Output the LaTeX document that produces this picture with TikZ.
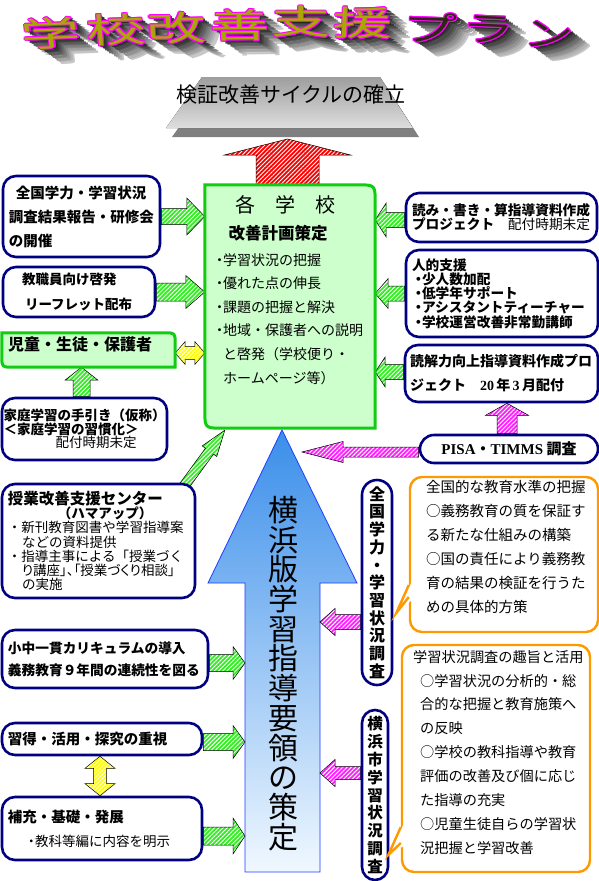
\documentclass[tikz,border=0pt]{standalone}
\usepackage{fontspec}
\setmainfont{Noto Sans CJK JP}
\newfontfamily\lserif{Liberation Serif}
\usetikzlibrary{calc,patterns.meta}
\pgfdeclarelayer{bg}
\pgfsetlayers{bg,main}
\definecolor{cNavy}{HTML}{000080}
\definecolor{cGB}{HTML}{11CC11}
\definecolor{cGF}{HTML}{CCFFCC}
\definecolor{cArG}{HTML}{33EE22}
\definecolor{cMag}{HTML}{FF22FF}
\definecolor{cRed}{HTML}{FF0000}
\definecolor{cYel}{HTML}{FFFF00}
\definecolor{cOra}{HTML}{FF9900}
\definecolor{cBlT}{HTML}{3A8EEA}
\definecolor{cBlB}{HTML}{F0F8FF}
\definecolor{cBlE}{HTML}{1E3CFF}
\definecolor{cOli}{HTML}{A8A800}
\definecolor{cKat}{HTML}{2A2A10}
\definecolor{cTitO}{HTML}{FF00FF}
\newcommand\setfs[2]{\fontsize{#1}{#2}\selectfont}
\newcommand\bul{\makebox[7pt][c]{・}}
% block arrow: style, from, to, shaft half width, head half width, head length
\newcommand\barrow[6][]{%
  \coordinate (bah) at ($(#3)!#6!(#2)$);
  \path[#1] ($(#2)!#4!90:(#3)$) -- ($(bah)!#4!-90:(#2)$) -- ($(bah)!#5!-90:(#2)$) -- (#3)
     -- ($(bah)!#5!90:(#2)$) -- ($(bah)!#4!90:(#2)$) -- ($(#2)!#4!-90:(#3)$) -- cycle;}
\newcommand\dbarrow[6][]{%
  \coordinate (dba) at ($(#2)!#6!(#3)$);
  \coordinate (dbb) at ($(#3)!#6!(#2)$);
  \path[#1] (#2) -- ($(dba)!#5!90:(#3)$) -- ($(dba)!#4!90:(#3)$) -- ($(dbb)!#4!-90:(#2)$)
     -- ($(dbb)!#5!-90:(#2)$) -- (#3) -- ($(dbb)!#5!90:(#2)$) -- ($(dbb)!#4!90:(#2)$)
     -- ($(dba)!#4!-90:(#3)$) -- ($(dba)!#5!-90:(#3)$) -- cycle;}
\tikzset{
  hatch/.style={preaction={fill=#1}, preaction={pattern={Lines[angle=45,distance=3pt,line width=0.9pt]}, pattern color=white}, draw=black, line width=0.5pt, line join=miter},
  nbox/.style={draw=cNavy, line width=2.6pt, fill=white, rounded corners=13pt, inner ysep=0pt, inner xsep=6pt, align=left},
  stad/.style={draw=cNavy, line width=2.6pt, fill=white, inner sep=0pt, align=center},
  cbox/.style={draw=cOra, line width=2.4pt, fill=white, rounded corners=12pt, inner sep=0pt},
  txt/.style={inner sep=0pt, align=left},
  ttl/.style={font={\setfs{34}{34}}, inner sep=0pt},
  gshape/.style={draw=cGB, line width=3pt, fill=cGF},
}
\begin{document}
\begin{tikzpicture}[x=1pt,y=-1pt]
\begin{pgfonlayer}{bg}
\fill[white] (0,0) rectangle (599,881);
\end{pgfonlayer}
\path[use as bounding box] (0,0) rectangle (599,881);

% ---------- title ----------
\foreach \k/\cx/\cy/\ch/\rt/\fc/\xs in {1/51/33/学/4/cOli/1.75, 2/116/30/校/3/cOli/1.75, 3/176/28/改/2/cOli/1.75, 4/240/25/善/1/cOli/1.75, 5/301/22/支/0/cOli/1.75, 6/363/23/援/-1/cOli/1.75, 7/430/28/プ/-3/cKat/1.6, 8/488/30/ラ/-4/cKat/1.55, 9/549/35/ン/-5/cKat/1.45}{
  \foreach \i in {10,...,1}{
    \pgfmathtruncatemacro\g{92-7*\i}
    \node[name=ts\k-\i, ttl, xscale=\xs, rotate=\rt, text=black!\g] at (\cx+2.1*\i,\cy+1.5*\i) {\ch};
  }
  \foreach \dx/\dy [count=\j] in {1.1/0,-1.1/0,0/1.1,0/-1.1,.8/.8,-.8/.8,.8/-.8,-.8/-.8}{
    \node[name=to\k-\j, ttl, xscale=\xs, rotate=\rt, text=cTitO] at (\cx+\dx,\cy+\dy) {\ch};
  }
  \node[name=tt\k, ttl, xscale=\xs, rotate=\rt, text=\fc] at (\cx,\cy) {\ch};
}

% ---------- verification plate ----------
\fill[black!50] (208,86) -- (386,86) -- (419,137) -- (172,137) -- cycle;
\fill[top color=black!38, bottom color=black!13] (202,77) -- (380,77) -- (413,128) -- (166,128) -- cycle;
\node[name=kensho, font={\setfs{21}{21}}, inner sep=0pt] at (291,95) {検証改善サイクルの確立};

% ---------- main nodes ----------
\node[name=school, minimum width=170pt, minimum height=243pt, inner sep=0pt] at (290,306.5) {};
\path[gshape] (school.north west) -- ([xshift=-18pt]school.north east) .. controls (school.north east) .. ([yshift=-18pt]school.north east)
  -- (school.south east) -- ([xshift=18pt]school.south west) .. controls (school.south west) .. ([yshift=18pt]school.south west) -- cycle;
\node[name=sc1, font={\setfs{20}{20}}, inner sep=0pt] at (285,205) {各　学　校};
\node[name=sc2, font={\setfs{16.5}{16.5}\bfseries}, inner sep=0pt] at (278,233) {改善計画策定};
\node[name=sc3, txt, font={\setfs{14}{23.6}}, anchor=north west] at (216,253) {\bul 学習状況の把握\\\bul 優れた点の伸長\\\bul 課題の把握と解決\\\bul 地域・保護者への説明\\\hspace*{7pt}と啓発（学校便り・\\\hspace*{7pt}ホームページ等）};

\node[nbox, name=b1, text width=145pt, minimum height=81pt, font={\setfs{14.5}{24}\bfseries}] at (81.5,216.5) {\hspace*{7pt}全国学力・学習状況\\調査結果報告・研修会\\の開催};
\node[nbox, name=b2, inner xsep=19pt, text width=114pt, minimum height=50pt, font={\setfs{13.5}{25}\bfseries}] at (79,292) {教職員向け啓発\\\hspace*{3pt}リーフレット配布};

\node[name=kids, minimum width=173pt, minimum height=34pt, inner sep=0pt] at (88.5,350) {};
\path[gshape] (kids.north west) -- ([xshift=-12pt]kids.north east) .. controls (kids.north east) .. ([yshift=-12pt]kids.north east)
  -- (kids.south east) -- ([xshift=12pt]kids.south west) .. controls (kids.south west) .. ([yshift=12pt]kids.south west) -- cycle;
\node[name=kidst, font={\setfs{16}{16}\bfseries}, inner sep=0pt, anchor=west] at (8,344) {児童・生徒・保護者};

\node[nbox, name=b4, inner xsep=1.5pt, text width=162pt, minimum height=62pt, font={\setfs{13.5}{13.5}\bfseries}] at (84.5,429) {家庭学習の手引き（仮称）\\＜家庭学習の習慣化＞\\\hspace*{52pt}{\mdseries 配付時期未定}};
\node[nbox, name=b5, text width=181pt, minimum height=114pt, font={\setfs{13.5}{14.2}}] at (98.5,541) {{\bfseries\setfs{15.5}{14.2}授業改善支援センター}\\\hspace*{50pt}{\bfseries （ハマアップ）}\\・新刊教育図書や学習指導案\\\hspace*{14pt}などの資料提供\\・指導主事による「授業づく\\\hspace*{14pt}{\addfontfeatures{CharacterWidth=AlternateProportional}り講座」、「授業づくり相談」}\\\hspace*{14pt}の実施};
\node[nbox, name=b6, text width=194pt, minimum height=58pt, font={\setfs{13.7}{22}\bfseries}] at (105,659) {小中一貫カリキュラムの導入\\義務教育９年間の連続性を図る};
\node[nbox, name=b7, text width=188pt, minimum height=32pt, font={\setfs{14.5}{14.5}\bfseries}] at (102,739) {習得・活用・探究の重視};
\node[nbox, name=b8, text width=188pt, minimum height=63pt, font={\setfs{14.5}{24}}] at (102,828.5) {{\bfseries 補充・基礎・発展}\\\hspace*{20pt}{\setfs{13.5}{24}\bul 教科等編に内容を明示}};

\node[nbox, name=r1, text width=179pt, minimum height=49pt, font={\setfs{13.7}{14}\bfseries}] at (501.5,217.5) {読み・書き・算指導資料作成\\プロジェクト{\mdseries 　配付時期未定}};
\node[nbox, name=r2, text width=180pt, minimum height=87pt, font={\setfs{13.7}{14.25}\bfseries}] at (502,293.5) {人的支援\\\hspace*{3pt}\bul 少人数加配\\\hspace*{3pt}\bul 低学年サポート\\\hspace*{3pt}\bul アシスタントティーチャー\\\hspace*{3pt}\bul 学校運営改善非常勤講師};
\node[nbox, name=r3, inner xsep=5pt, text width=183pt, minimum height=57pt, font={\setfs{14}{24}\bfseries}] at (501.5,373.5) {読解力向上指導資料作成プロ\\ジェクト　{\lserif 20\,}年{\lserif\,3\,}月配付};
\node[stad, name=pisa, minimum width=178pt, minimum height=28pt, rounded corners=14pt, font={\setfs{15}{15}\bfseries}] at (509,449) {{\lserif PISA}・{\lserif TIMMS} 調査};

\node[stad, name=zs, minimum width=30pt, minimum height=205pt, rounded corners=15pt, font={\setfs{16}{17.7}\bfseries}] at (377,582.5) {全\\国\\学\\力\\・\\学\\習\\状\\況\\調\\査};
\node[stad, name=ys, minimum width=26pt, minimum height=170pt, rounded corners=13pt, font={\setfs{15.5}{17.9}\bfseries}] at (375,795) {横\\浜\\市\\学\\習\\状\\況\\調\\査};

% ---------- callouts ----------
\node[cbox, name=co1, minimum width=188pt, minimum height=155pt] at (504,554.5) {};
\coordinate (c1a) at ([yshift=-30.5pt]co1.west);
\coordinate (c1b) at ([yshift=-42.5pt]co1.west);
\coordinate (c1t) at ([xshift=3pt,yshift=-30.5pt]zs.east);
\fill[white] ([xshift=3pt,yshift=3pt]c1a) -- (c1t) -- ([xshift=3pt,yshift=-3pt]c1b) -- cycle;
\draw[cOra, line width=2.4pt, line join=miter] (c1a) -- (c1t) -- (c1b);
\node[txt, name=co1t, font={\setfs{14.5}{24}}, anchor=north west] at (426,480.5) {全国的な教育水準の把握\\○義務教育の質を保証す\\る新たな仕組みの構築\\○国の責任により義務教\\育の結果の検証を行うた\\めの具体的方策};

\node[cbox, name=co2, minimum width=188pt, minimum height=227pt] at (496,758.5) {};
\coordinate (c2a) at ([yshift=-68.5pt]co2.west);
\coordinate (c2b) at ([yshift=-84.5pt]co2.west);
\coordinate (c2t) at ([xshift=-1pt,yshift=-60pt]ys.east);
\fill[white] ([xshift=3pt,yshift=3pt]c2a) -- (c2t) -- ([xshift=3pt,yshift=-3pt]c2b) -- cycle;
\draw[cOra, line width=2.4pt, line join=miter] (c2a) -- (c2t) -- (c2b);
\node[txt, name=co2t, font={\setfs{14.2}{23.9}}, anchor=north west] at (413,649.9) {学習状況調査の趣旨と活用\\\hspace*{7pt}○学習状況の分析的・総\\\hspace*{7pt}合的な把握と教育施策へ\\\hspace*{7pt}の反映\\\hspace*{7pt}○学校の教科指導や教育\\\hspace*{7pt}評価の改善及び個に応じ\\\hspace*{7pt}た指導の充実\\\hspace*{7pt}○児童生徒自らの学習状\\\hspace*{7pt}況把握と学習改善};

% ---------- big blue arrow ----------
\coordinate (blueL) at (245,700);
\coordinate (blueR) at (320,700);
\begin{pgfonlayer}{bg}
\path[draw=cBlE, line width=0.8pt, top color=cBlT, bottom color=cBlB] (282,430) -- (357,583) -- (blueR |- 0,583) -- (blueR |- 0,872) -- (blueL |- 0,872) -- (blueL |- 0,583) -- (208,583) -- cycle;
\end{pgfonlayer}
\node[name=yoko, font={\setfs{30}{29.7}}, align=center, inner sep=0pt] at (283,673.5) {横\\浜\\版\\学\\習\\指\\導\\要\\領\\の\\策\\定};

% ---------- block arrows ----------
\begin{pgfonlayer}{bg}
\coordinate (redtip) at (287.5,139);
\coordinate (redbase) at (redtip |- school.north);
\barrow[hatch=cRed]{redbase}{redtip}{31.5pt}{63pt}{16pt}

\coordinate (a1t) at (school.west |- b1.east);
\barrow[hatch=cArG]{b1.east}{a1t}{8pt}{18.5pt}{18pt}
\coordinate (a2t) at (school.west |- b2.east);
\barrow[hatch=cArG]{b2.east}{a2t}{9pt}{16.5pt}{19pt}
\coordinate (kyS) at ([yshift=-3pt]kids.east);
\coordinate (kyT) at (school.west |- kyS);
\dbarrow[hatch=cYel]{kyS}{kyT}{6.5pt}{11.5pt}{10pt}
\coordinate (guS) at ([xshift=-3pt]b4.north);
\coordinate (guT) at (guS |- kids.south);
\barrow[hatch=cArG]{guS}{guT}{8.5pt}{16.5pt}{13pt}
\coordinate (dgS) at ([xshift=-12pt,yshift=-3pt]b5.north east);
\coordinate (dgT) at ([xshift=20pt,yshift=-2pt]school.south west);
\barrow[hatch=cArG]{dgS}{dgT}{5pt}{9pt}{26pt}
\coordinate (a6s) at ([yshift=-4pt]b6.east);
\coordinate (a6t) at (blueL |- a6s);
\barrow[hatch=cArG]{a6s}{a6t}{8.5pt}{16.5pt}{12pt}
\coordinate (a7s) at ([yshift=-3pt]b7.east);
\coordinate (a7t) at (blueL |- a7s);
\barrow[hatch=cArG]{a7s}{a7t}{8.5pt}{16.5pt}{12pt}
\coordinate (a8s) at ([yshift=-7.5pt]b8.east);
\coordinate (a8t) at (blueL |- a8s);
\barrow[hatch=cArG]{a8s}{a8t}{9pt}{18pt}{12pt}
\coordinate (yvS) at ([xshift=-2pt]b7.south);
\coordinate (yvT) at (yvS |- b8.north);
\dbarrow[hatch=cYel]{yvS}{yvT}{6.5pt}{15pt}{12pt}

\coordinate (r1s) at ([yshift=-2.5pt]r1.west);
\coordinate (r1t) at (school.east |- r1s);
\barrow[hatch=cArG]{r1s}{r1t}{7.5pt}{17pt}{11pt}
\coordinate (r2t) at (school.east |- r2.west);
\barrow[hatch=cArG]{r2.west}{r2t}{7.5pt}{15pt}{13pt}
\coordinate (r3s) at ([yshift=1.5pt]r3.west);
\coordinate (r3t) at (school.east |- r3s);
\barrow[hatch=cArG]{r3s}{r3t}{7.5pt}{15pt}{10pt}

\coordinate (puS) at ([xshift=-2pt]pisa.north);
\coordinate (puT) at (puS |- r3.south);
\barrow[hatch=cMag]{puS}{puT}{10pt}{21.5pt}{12pt}
\coordinate (plS) at ([yshift=-3pt]pisa.west);
\coordinate (plT) at (302,452);
\barrow[hatch=cMag]{plS}{plT}{5pt}{10.5pt}{41pt}
\coordinate (zlS) at ([yshift=-39.5pt]zs.west);
\coordinate (zlT) at (blueR |- zlS);
\barrow[hatch=cMag]{zlS}{zlT}{7.5pt}{13.5pt}{15pt}
\coordinate (ylS) at ([yshift=22pt]ys.west);
\coordinate (ylT) at (blueR |- ylS);
\barrow[hatch=cMag]{ylS}{ylT}{6.5pt}{13.5pt}{15pt}
\end{pgfonlayer}
\end{tikzpicture}
\end{document}
